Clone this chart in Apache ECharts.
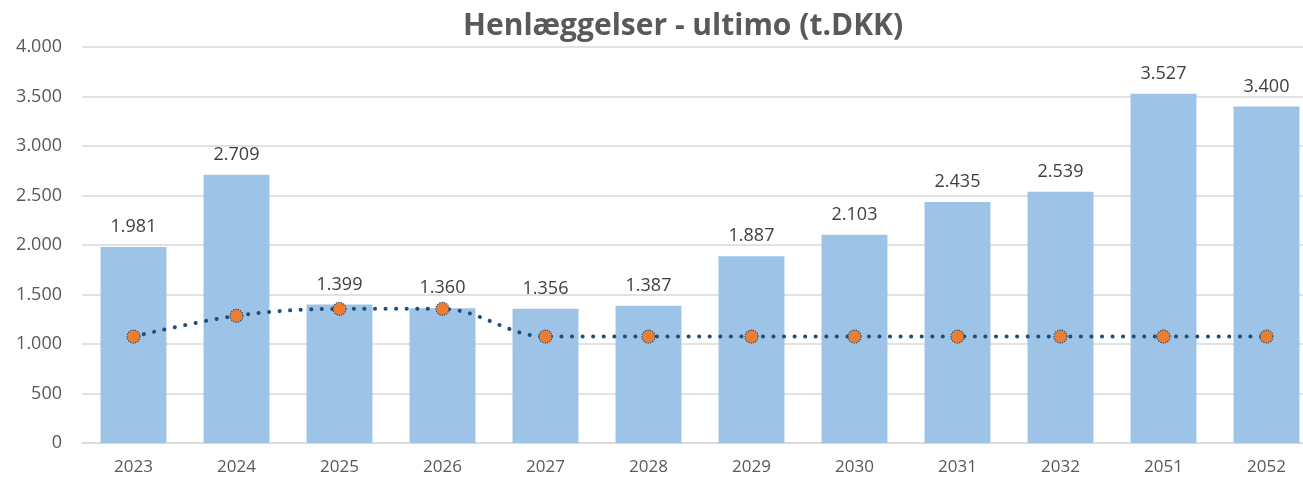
<!DOCTYPE html>
<html><head><meta charset="utf-8">
<script src="https://cdn.jsdelivr.net/npm/echarts@6/dist/echarts.min.js"></script>
<style>html,body{margin:0;padding:0;background:#fff;overflow:hidden}#c{width:1320px;height:480px}</style>
</head><body><div id="c"></div>
<script>
var categories = ['2023','2024','2025','2026','2027','2028','2029','2030','2031','2032','2051','2052'];
var barValues = [1981,2709,1399,1360,1356,1387,1887,2103,2435,2539,3527,3400];
var lineValues = [1075,1285,1355,1355,1075,1075,1075,1075,1075,1075,1075,1075];
var titleText = 'Henlæggelser - ultimo (t.DKK)';
var fmt = function(v){ return String(Math.round(v)).replace(/\B(?=(\d{3})+(?!\d))/g,'.'); };
var font = '"Open Sans", "Liberation Sans", sans-serif';
var chart = echarts.init(document.getElementById('c'));
chart.setOption({
  animation:false,
  title:{text:titleText,left:458,top:6,textStyle:{fontFamily:font,fontSize:30,fontWeight:'bold',color:'#595959'}},
  grid:{left:82,right:2,top:47,bottom:37,containLabel:false},
  xAxis:{type:'category',data:categories,axisTick:{show:false},axisLine:{lineStyle:{color:'#d9d9d9',width:1.5}},
    axisLabel:{fontFamily:font,fontSize:17,color:'#595959',margin:16}},
  yAxis:{type:'value',min:0,max:4000,interval:500,axisLine:{show:false},axisTick:{show:false},
    splitLine:{lineStyle:{color:'#d9d9d9',width:1.5}},
    axisLabel:{fontFamily:font,fontSize:18,color:'#595959',margin:20,formatter:fmt}},
  series:[
    {type:'bar',data:barValues,barWidth:'64%',itemStyle:{color:'#9DC3E6'},
     label:{show:true,position:'top',distance:11,fontFamily:font,fontSize:18,color:'#404040',formatter:function(p){return fmt(p.value);}}},
    {type:'line',data:lineValues,smooth:0.35,symbol:'circle',symbolSize:13,
     lineStyle:{color:'#1F4E79',width:4,type:[0.1,10.5],cap:'round'},
     itemStyle:{color:'#ED7D31',borderColor:'#1F4E79',borderWidth:1.2,borderType:'dotted'}}
  ]
});
</script></body></html>
